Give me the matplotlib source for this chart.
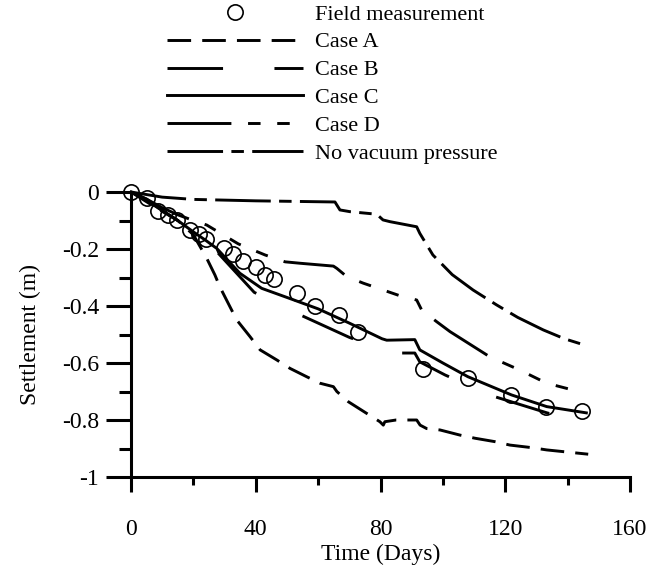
import numpy as np
import matplotlib
matplotlib.use("Agg")
import matplotlib.pyplot as plt
from matplotlib.ticker import MultipleLocator, FixedLocator

# field measurements (days, m)
field_t = [0, 5.0, 8.6, 11.9, 14.6, 18.9, 21.8, 24.0, 29.8, 32.8, 35.9, 40.1,
           42.9, 45.8, 53.1, 59.0, 66.8, 72.9, 93.7, 108.1, 122.0, 133.0, 144.5]
field_s = [0, -0.022, -0.066, -0.081, -0.098, -0.133, -0.147, -0.166, -0.195,
           -0.218, -0.241, -0.264, -0.291, -0.306, -0.353, -0.400, -0.432,
           -0.491, -0.622, -0.652, -0.712, -0.755, -0.768]

# Case A
a_t = [0, 8, 15, 20, 24.3, 26.9, 28.5, 31.7, 33.9, 38.2, 41.4, 46.7, 51, 56.3,
       60.6, 64.9, 66, 69.7, 75.6, 79.8, 80.9, 81.4, 85, 91.6, 92.7, 94.8,
       99.1, 105.5, 110.3, 116.7, 121.5, 128.5, 133.3, 138.6, 146.6]
a_s = [0, -0.055, -0.1, -0.15, -0.233, -0.291, -0.333, -0.402, -0.449, -0.508,
       -0.554, -0.589, -0.619, -0.648, -0.671, -0.683, -0.700, -0.736, -0.777,
       -0.806, -0.818, -0.806, -0.800, -0.800, -0.818, -0.830, -0.835, -0.853,
       -0.864, -0.876, -0.888, -0.897, -0.905, -0.911, -0.920]

# Case B
b_t = [0, 5, 10, 15, 20, 25, 27.9, 39.5, 54, 70, 80, 85, 91, 92.6, 100.7,
       116, 133.4, 146]
b_s = [0, -0.03, -0.065, -0.1, -0.14, -0.18, -0.214, -0.352, -0.43, -0.51,
       -0.55, -0.565, -0.565, -0.596, -0.642, -0.716, -0.775, -0.81]

# Case C
c_t = [0, 5, 10, 15, 20, 24, 27.5, 34.9, 41.9, 50, 60, 70, 80.5, 82, 91,
       92.6, 100, 108, 122, 133.3, 146]
c_s = [0, -0.025, -0.065, -0.1, -0.14, -0.17, -0.198, -0.285, -0.338, -0.37,
       -0.41, -0.46, -0.515, -0.52, -0.518, -0.554, -0.60, -0.648, -0.712,
       -0.753, -0.775]

# Case D
d_t = [0, 5, 10, 15, 20, 24.3, 34.4, 43, 49.4, 54.2, 64.9, 66, 69.2, 74.5,
       86.2, 91.6, 93.2, 98, 102.3, 115, 124.7, 133.3, 141.8]
d_s = [0, -0.025, -0.055, -0.08, -0.1, -0.116, -0.182, -0.221, -0.245, -0.25,
       -0.26, -0.268, -0.297, -0.32, -0.364, -0.379, -0.414, -0.455, -0.49,
       -0.578, -0.625, -0.671, -0.695]

# No vacuum pressure
nv_t = [0, 10, 20, 40, 65.4, 67, 70.2, 78.8, 80.8, 83, 91.6, 92.6, 96.8, 103,
        109.7, 117.2, 124, 132.2, 139, 146.3]
nv_s = [0, -0.018, -0.026, -0.031, -0.035, -0.063, -0.069, -0.078, -0.098,
        -0.104, -0.122, -0.145, -0.221, -0.29, -0.344, -0.396, -0.44, -0.484,
        -0.515, -0.54]

x_ticks = [0, 40, 80, 120, 160]
y_ticks = [0, -0.2, -0.4, -0.6, -0.8, -1]
y_labels = ["0", "-0.2", "-0.4", "-0.6", "-0.8", "-1"]

plt.rcParams["font.family"] = ["Liberation Serif", "DejaVu Serif"]
plt.rcParams["lines.scale_dashes"] = False
plt.rcParams["axes.unicode_minus"] = False

fig = plt.figure(figsize=(6.65, 5.69), dpi=100)
ax = fig.add_axes([131 / 665, 1 - 477 / 569, 499 / 665, 285 / 569])

lw = 2.1
ax.plot(field_t, field_s, linestyle="none", marker="o", ms=11, mfc="none",
        mec="black", mew=1.2, label="Field measurement", clip_on=False)
ax.plot(a_t, a_s, color="black", lw=lw, dashes=(17, 8), label="Case A",
        clip_on=False)
ax.plot(b_t, b_s, color="black", lw=lw, dashes=(40, 37), label="Case B",
        clip_on=False)
ax.plot(c_t, c_s, color="black", lw=lw, label="Case C", clip_on=False)
ax.plot(d_t, d_s, color="black", lw=lw,
        dashes=(46, 12, 9, 12, 9, 12, 9, 12), label="Case D", clip_on=False)
ax.plot(nv_t, nv_s, color="black", lw=lw, dashes=(40, 6, 9, 6),
        label="No vacuum pressure", clip_on=False)

ax.set_xlim(0, 160)
ax.set_ylim(-1, 0)
ax.spines["top"].set_visible(False)
ax.spines["right"].set_visible(False)
ax.spines["left"].set_linewidth(2.2)
ax.spines["bottom"].set_linewidth(2.2)

ax.xaxis.set_major_locator(FixedLocator(x_ticks))
ax.xaxis.set_minor_locator(MultipleLocator(20))
ax.yaxis.set_major_locator(FixedLocator(y_ticks))
ax.yaxis.set_minor_locator(MultipleLocator(0.1))
ax.set_yticklabels(y_labels)

ax.tick_params(axis="x", which="major", direction="out", length=11, width=2.2,
               pad=19, labelsize=17)
ax.tick_params(axis="x", which="minor", direction="out", length=6, width=2.2)
ax.tick_params(axis="y", which="major", direction="out", length=18, width=2.2,
               pad=5, labelsize=17)
ax.tick_params(axis="y", which="minor", direction="out", length=9, width=2.2)

ax.set_xlabel("Time (Days)", fontsize=17, labelpad=3)
ax.set_ylabel("Settlement (m)", fontsize=17, labelpad=15)

fig.legend(loc="upper left", bbox_to_anchor=(167 / 665, 1 - 4 / 569),
           bbox_transform=fig.transFigure, frameon=False, fontsize=16,
           handlelength=6.1, handletextpad=0.55, labelspacing=0.33,
           borderpad=0, borderaxespad=0, numpoints=1)

fig.savefig("out.png", dpi=100)
